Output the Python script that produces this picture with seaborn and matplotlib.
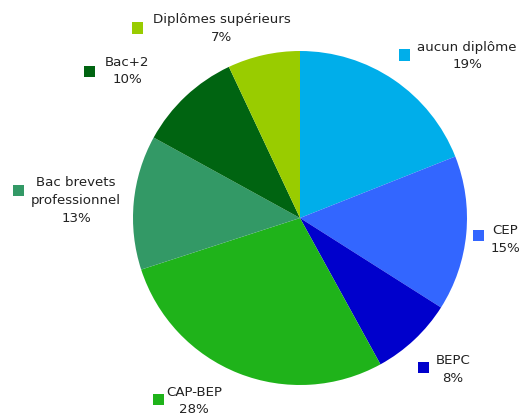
import matplotlib
matplotlib.use("Agg")
import matplotlib.pyplot as plt
import seaborn as sns
from matplotlib.patches import Rectangle

# data
categories = ["aucun diplôme", "CEP", "BEPC", "CAP-BEP",
              "Bac brevets\nprofessionnel", "Bac+2", "Diplômes supérieurs"]
values = [19, 15, 8, 28, 13, 10, 7]
colors = ["#00aeea", "#3366ff", "#0000cc", "#1fb31a",
          "#339966", "#006411", "#99cc00"]

# label layout in pixels (text centre x, first line y, square centre x, square centre y)
label_pos = [
    (467, 47, 404, 55),
    (505, 231, 478, 235),
    (453, 361, 423, 367),
    (194, 392, 158, 399),
    (76, 183, 18, 191),
    (127, 62, 89, 71),
    (222, 20, 137, 28),
]

sns.set_theme(style="white")
plt.rcParams['font.family'] = ['DejaVu Sans']

W, H = 525, 416
fig = plt.figure(figsize=(W / 100, H / 100), dpi=100)
cx, cy, r = 300, 218, 167
ax = fig.add_axes([(cx - r) / W, (H - cy - r) / H, 2 * r / W, 2 * r / H])
ax.pie(values, colors=colors, startangle=90, counterclock=False,
       wedgeprops=dict(linewidth=0))
ax.set_xlim(-1, 1)
ax.set_ylim(-1, 1)
ax.set_aspect("equal")
ax.axis("off")

line_h = 17.5
for cat, val, col, (tx, ty, sx, sy) in zip(categories, values, colors, label_pos):
    lines = cat.split("\n") + [f"{val}%"]
    for i, ln in enumerate(lines):
        fig.text(tx / W, 1 - (ty + i * line_h) / H, ln, ha="center", va="center",
                 fontsize=9.6, color="#222222")
    s = 11
    fig.add_artist(Rectangle(((sx - s / 2) / W, 1 - (sy + s / 2) / H), s / W, s / H,
                             transform=fig.transFigure, color=col, lw=0))

fig.savefig("out.png", dpi=100)
